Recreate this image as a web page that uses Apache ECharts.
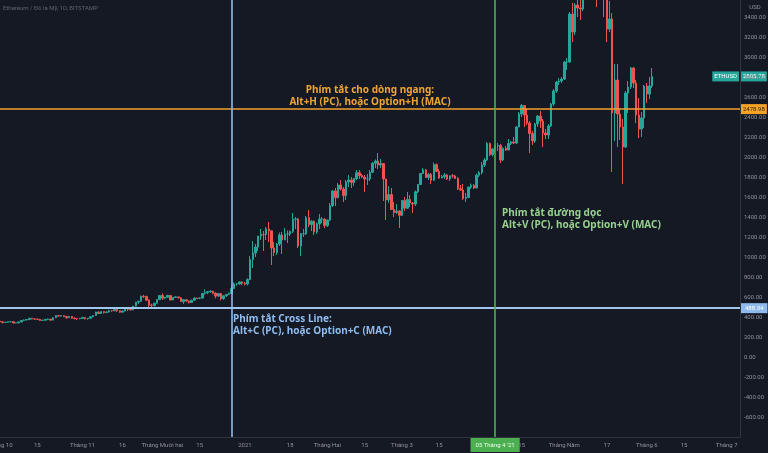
<!DOCTYPE html>
<html><head><meta charset="utf-8">
<script src="https://cdn.jsdelivr.net/npm/echarts@6/dist/echarts.min.js"></script>
<style>html,body{margin:0;padding:0;background:#151924}#c{width:768px;height:453px}</style>
</head><body><div id="c"></div><script>
// Daily candles [open, close, low, high], ETH/USD Bitstamp
const oct2020 = [[359,353,346,362],[353,346,335,357],[346,347,343,350],[347,353,346,354],[353,353,348,356],[353,340,336,356],[340,341,337,344],[341,351,337,353],[351,365,348,370],[365,370,364,376],[370,375,368,378],[375,387,369,393],[387,381,377,390],[381,379,374,384],[379,377,370,381],[377,366,362,380],[366,368,364,371],[368,377,367,380],[377,379,374,385],[379,369,363,380],[369,392,366,398],[392,414,390,418],[414,409,402,417],[409,413,406,416],[413,406,399,415],[406,393,382,408],[393,404,390,410],[404,388,381,410],[388,386,375,395],[386,382,370,387],[382,386,378,391]];
const nov2020 = [[386,396,384,399],[396,383,375,398],[383,388,373,390],[388,402,380,407],[402,415,398,418],[415,449,412,453],[449,435,430,457],[435,454,432,457],[454,444,434,458],[444,449,442,458],[449,463,447,474],[463,462,453,470],[462,475,460,478],[475,462,451,476],[462,448,441,464],[448,460,446,464],[460,481,457,490],[481,479,459,495],[479,471,464,484],[471,509,468,511],[509,549,506,551],[549,558,530,562],[558,607,555,615],[607,604,590,622],[604,568,560,614],[568,518,480,576],[518,516,500,533],[516,538,505,542],[538,574,534,576],[574,615,573,618]];
const dec2020 = [[615,588,570,636],[588,598,578,600],[598,616,594,622],[616,570,567,617],[570,596,568,598],[596,601,590,607],[601,592,585,605],[592,554,551,596],[554,573,531,576],[573,560,550,575],[560,545,534,562],[545,568,543,573],[568,590,564,595],[590,586,582,592],[586,589,578,595],[589,636,585,639],[636,643,623,676],[643,654,629,656],[654,659,642,666],[659,638,627,662],[638,609,586,648],[609,635,599,638],[635,583,565,640],[583,612,571,615],[612,626,601,628],[626,636,623,645],[636,684,630,720],[684,731,680,746],[731,731,713,740],[731,751,723,755],[751,737,718,754]];
const jan2021 = [[737,730,715,749],[730,775,716,787],[775,975,770,1010],[975,1040,890,1160],[1040,1100,1000,1130],[1100,1210,1060,1210],[1210,1225,1170,1280],[1225,1224,1060,1260],[1224,1281,1170,1300],[1281,1262,1150,1350],[1262,1090,920,1262],[1090,1045,1010,1150],[1045,1130,1020,1140],[1130,1220,1110,1245],[1220,1170,1030,1250],[1170,1230,1170,1290],[1230,1230,1140,1265],[1230,1257,1210,1265],[1257,1377,1240,1440],[1377,1380,1280,1400],[1380,1110,1090,1390],[1110,1232,1010,1240],[1232,1233,1200,1280],[1233,1393,1220,1410],[1393,1324,1300,1470],[1324,1357,1260,1370],[1357,1250,1220,1365],[1250,1330,1230,1345],[1330,1380,1280,1430],[1380,1380,1340,1400],[1380,1314,1290,1385]];
const feb2021 = [[1314,1369,1300,1375],[1369,1515,1360,1540],[1515,1660,1500,1670],[1660,1594,1510,1690],[1594,1720,1585,1740],[1720,1680,1665,1770],[1680,1614,1550,1700],[1614,1750,1570,1770],[1750,1770,1700,1820],[1770,1745,1690,1800],[1745,1784,1710,1790],[1784,1843,1770,1870],[1843,1814,1780,1870],[1814,1800,1790,1830],[1800,1780,1650,1820],[1780,1781,1720,1830],[1781,1848,1760,1870],[1848,1937,1840,1950],[1937,1960,1890,1975],[1960,1920,1880,2040],[1920,1935,1890,1980],[1935,1780,1560,1940],[1780,1570,1370,1780],[1570,1625,1540,1710],[1625,1475,1470,1690],[1475,1446,1400,1550],[1446,1460,1430,1530],[1460,1417,1290,1470]];
const mar2021 = [[1417,1565,1410,1570],[1565,1488,1460,1600],[1488,1575,1480,1650],[1575,1540,1500,1620],[1540,1530,1440,1550],[1530,1652,1510,1665],[1652,1725,1640,1730],[1725,1835,1720,1840],[1835,1870,1830,1890],[1870,1795,1790,1880],[1795,1825,1770,1840],[1825,1767,1730,1840],[1767,1924,1760,1945],[1924,1855,1850,1935],[1855,1790,1780,1880],[1790,1805,1790,1820],[1805,1820,1780,1840],[1820,1780,1770,1830],[1780,1812,1760,1815],[1812,1810,1790,1830],[1810,1785,1780,1820],[1785,1682,1670,1800],[1682,1670,1660,1720],[1670,1585,1570,1730],[1585,1595,1550,1640],[1595,1700,1590,1700],[1700,1715,1680,1735],[1715,1690,1680,1730],[1690,1818,1690,1835],[1818,1845,1800,1860],[1845,1920,1825,1950]];
const apr2021 = [[1920,1970,1900,1990],[1970,2135,1960,2150],[2135,2025,2010,2145],[2025,2080,2005,2090],[2080,2110,2050,2120],[2110,2115,2060,2140],[2115,1970,1940,2130],[1970,2085,1960,2095],[2085,2070,2060,2110],[2070,2135,2070,2180],[2135,2150,2120,2160],[2150,2140,2130,2200],[2140,2300,2130,2310],[2300,2430,2300,2450],[2430,2515,2400,2530],[2515,2420,2300,2520],[2420,2340,2320,2480],[2340,2235,2040,2360],[2235,2160,2120,2260],[2160,2330,2140,2340],[2330,2410,2300,2420],[2410,2360,2290,2460],[2360,2240,2100,2380],[2240,2220,2180,2280],[2220,2310,2180,2330],[2310,2530,2300,2540],[2530,2660,2510,2680],[2660,2750,2640,2760],[2750,2760,2720,2790],[2760,2780,2740,2800]];
const may2021 = [[2780,2950,2770,2960],[2950,2950,2870,2990],[2950,3430,2940,3450],[3430,3250,3150,3540],[3250,3520,3220,3540],[3520,3490,3400,3600],[3490,3480,3370,3580],[3480,3900,3460,3950],[3900,3925,3700,3980],[3925,3950,3800,4200],[3950,4170,3930,4190],[4170,3800,3780,4380],[3800,3715,3500,4000],[3715,4080,3700,4150],[4080,3640,3600,4120],[3640,3590,3400,3870],[3590,3280,3150,3600],[3280,3380,3250,3560],[3380,2440,1850,3440],[2440,2770,2160,2930],[2770,2430,2100,2930],[2430,2300,2170,2480],[2300,2100,1730,2380],[2100,2640,2090,2660],[2640,2700,2440,2760],[2700,2890,2680,2900],[2890,2740,2690,2900],[2740,2420,2340,2770],[2420,2280,2190,2590],[2280,2390,2200,2450],[2390,2710,2290,2720]];
const jun2021 = [[2710,2630,2540,2740],[2630,2710,2580,2800],[2710,2805,2690,2890]];
const firstDate = '2020-10-01';

const xTickDates = ['2020-10-01','2020-10-15','2020-11-01','2020-11-16','2020-12-01','2020-12-15','2021-01-01','2021-01-18','2021-02-01','2021-02-15','2021-03-01','2021-03-15','2021-04-15','2021-05-01','2021-05-17','2021-06-01','2021-06-15','2021-07-01'];
const xTickLabels = ['Tháng 10','15','Tháng 11','16','Tháng Mười hai','15','2021','18','Tháng Hai','15','Tháng 3','15','15','Tháng Năm','17','Tháng 6','15','Tháng 7'];

const hLineOrange = 2478.98;
const hLineBlue = 488.34;
const vLineBlueDate = '2020-12-27';
const vLineGreenDate = '2021-04-05';
const lastPrice = 2805.78;

const DAY = 86400000;
const epoch = Date.UTC(2021,0,1);
const dayOf = s => (Date.parse(s + 'T00:00:00Z') - epoch) / DAY;
const start = dayOf(firstDate);
const rows = [oct2020,nov2020,dec2020,jan2021,feb2021,mar2021,apr2021,may2021,jun2021].flat();
const data = rows.map((r, i) => [start + i, r[0], r[1], r[2], r[3]]);
const labelMap = {};
xTickDates.forEach((d, i) => { labelMap[dayOf(d)] = xTickLabels[i]; });

const chart = echarts.init(document.getElementById('c'), null, {renderer: 'canvas'});
const axisTxt = '#8f929b';
const option = {
  backgroundColor: '#151924',
  animation: false,
  textStyle: {fontFamily: 'Roboto, "Noto Sans", sans-serif'},
  grid: {left: 0, right: 28, top: 0, bottom: 16, containLabel: false, outerBoundsMode: 'none'},
  xAxis: {
    type: 'value', min: -92, max: 186, interval: 1,
    axisLine: {show: true, onZero: false, lineStyle: {color: '#2f333e', width: 1}},
    axisTick: {show: false}, splitLine: {show: false},
    axisLabel: {show: true, fontSize: 6, color: axisTxt, margin: 5, hideOverlap: false,
      formatter: v => labelMap[v] !== undefined ? labelMap[v] : ''}
  },
  yAxis: {
    type: 'value', position: 'right', min: -800, max: 3570, interval: 200,
    axisLine: {show: true, onZero: false, lineStyle: {color: '#2f333e', width: 1}},
    axisTick: {show: false}, splitLine: {show: false},
    axisLabel: {show: true, fontSize: 6, color: axisTxt, margin: 4,
      formatter: v => (v >= -600 && v <= 3400 && v % 200 === 0) ? v.toFixed(2) : ''}
  },
  series: [{
    type: 'candlestick',
    data: data,
    encode: {x: 0, y: [1, 2, 3, 4]},
    barWidth: 2,
    clip: true,
    itemStyle: {color: '#26a69a', color0: '#ef5350', borderColor: '#26a69a', borderColor0: '#ef5350', borderWidth: 1},
    markLine: {
      symbol: 'none', silent: true, animation: false, precision: 2,
      data: [
        {yAxis: hLineOrange, lineStyle: {color: '#f0a030', width: 1.5, type: 'solid'},
          label: {show: true, position: 'end', distance: 1, formatter: hLineOrange.toFixed(2), backgroundColor: '#f5a325', color: '#2a1a00', fontSize: 6, padding: [2, 2]}},
        {yAxis: hLineBlue, lineStyle: {color: '#a3c6ee', width: 2, type: 'solid'},
          label: {show: true, position: 'end', distance: 1, formatter: hLineBlue.toFixed(2), backgroundColor: '#8fbbec', color: '#ffffff', fontSize: 6, padding: [2, 4]}},
        {xAxis: dayOf(vLineBlueDate), lineStyle: {color: '#8fbcf0', width: 1.6, opacity: 1, type: 'solid'}, label: {show: false}},
        {xAxis: dayOf(vLineGreenDate), lineStyle: {color: '#4caf50', width: 1.6, opacity: 1, type: 'solid'},
          label: {show: true, position: 'start', distance: 1, formatter: "05 Tháng 4 '21", backgroundColor: '#4caf50', color: '#eaffea', fontSize: 6, padding: [4, 5]}}
      ]
    }
  }],
  graphic: [
    {type: 'text', id: 'title', x: 3, y: 5, style: {text: 'Ethereum / Đô la Mỹ, 1D, BITSTAMP', fill: '#5f626d', fontSize: 6, fontFamily: 'Roboto'}},
    {type: 'text', id: 'usd', x: 755, y: 4, style: {text: 'USD', fill: axisTxt, fontSize: 6, align: 'center', fontFamily: 'Roboto'}},
    {type: 'text', id: 'tOrange', x: 370, y: 84, style: {text: 'Phím tắt cho dòng ngang:\nAlt+H (PC), hoặc Option+H (MAC)', fill: '#eea535', fontSize: 10, fontWeight: 'bold', fontFamily: '"Noto Sans"', align: 'center', lineHeight: 12}},
    {type: 'text', id: 'tGreen', x: 502, y: 207, style: {text: 'Phím tắt đường dọc\nAlt+V (PC), hoặc Option+V (MAC)', fill: '#98d08f', fontSize: 10, fontWeight: 'bold', fontFamily: '"Noto Sans"', align: 'left', lineHeight: 12}},
    {type: 'text', id: 'tBlue', x: 233, y: 313, style: {text: 'Phím tắt Cross Line:\nAlt+C (PC), hoặc Option+C (MAC)', fill: '#8fbcf0', fontSize: 10, fontWeight: 'bold', fontFamily: '"Noto Sans"', align: 'left', lineHeight: 12}}
  ]
};
chart.setOption(option);
const p = chart.convertToPixel({seriesIndex: 0}, [0, lastPrice]);
const yPix = p[1];
chart.setOption({graphic: [
  {type: 'text', id: 'lpSym', x: 739, y: yPix, style: {text: 'ETHUSD', fill: '#ffffff', fontSize: 6, fontFamily: 'Roboto', align: 'right', verticalAlign: 'middle', backgroundColor: '#26a69a', padding: [2, 2]}},
  {type: 'text', id: 'lpVal', x: 741, y: yPix, style: {text: lastPrice.toFixed(2), fill: '#ffffff', fontSize: 6, fontFamily: 'Roboto', align: 'left', verticalAlign: 'middle', backgroundColor: '#26a69a', padding: [2, 2]}}
]});
</script></body></html>
